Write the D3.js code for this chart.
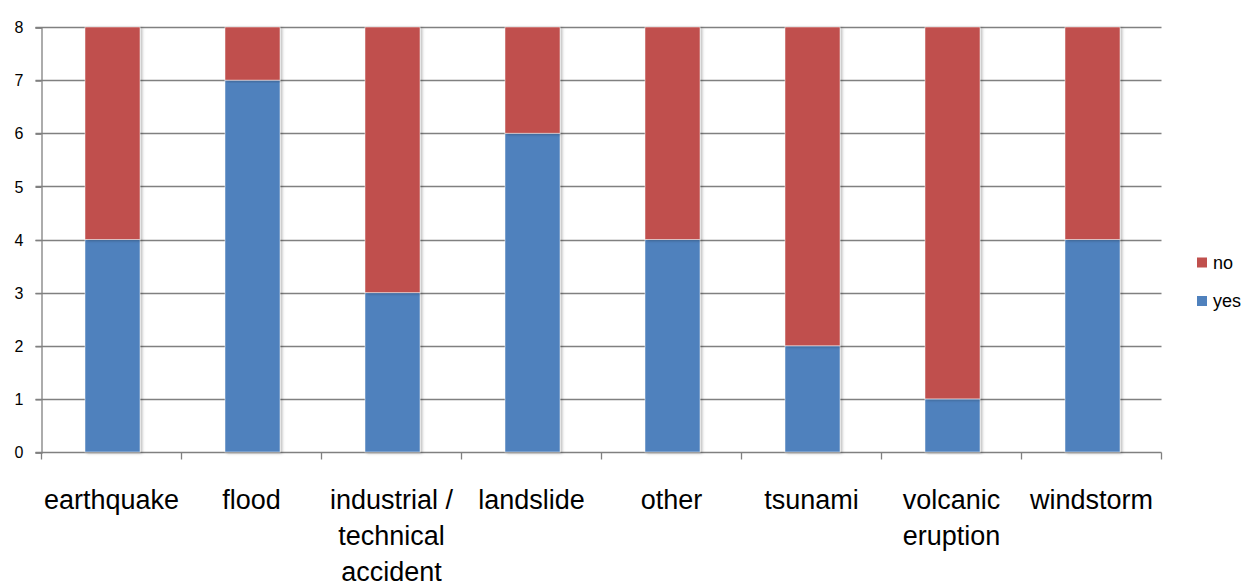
<!DOCTYPE html>
<html>
<head>
<meta charset="utf-8">
<script src="https://cdn.jsdelivr.net/npm/d3@7"></script>
<style>
  html, body { margin: 0; padding: 0; background: #fff; }
  svg { display: block; }
  text { font-family: "Liberation Sans", Arial, sans-serif; fill: #000; }
</style>
</head>
<body>
<svg id="chart" width="1256" height="586"></svg>
<script>
// Disaster types along the x axis
const categories = ["earthquake", "flood", "industrial / technical accident", "landslide",
                    "other", "tsunami", "volcanic eruption", "windstorm"];
// Wrapped label lines for each category
const categoryLines = [["earthquake"], ["flood"], ["industrial /", "technical", "accident"], ["landslide"],
                       ["other"], ["tsunami"], ["volcanic", "eruption"], ["windstorm"]];
// Stacked series (bottom to top)
const yesValues = [4, 7, 3, 6, 4, 2, 1, 4];
const noValues  = [4, 1, 5, 2, 4, 6, 7, 4];
const seriesNames = ["yes", "no"];
const seriesColors = ["#4F81BD", "#C0504D"];
const yTicks = [0, 1, 2, 3, 4, 5, 6, 7, 8];

const svg = d3.select("#chart");

const plot = { left: 41.5, right: 1161.5, top: 27, bottom: 452 };

const x = d3.scaleBand().domain(categories).range([plot.left, plot.right]).paddingInner(0).paddingOuter(0);
const y = d3.scaleLinear().domain([0, 8]).range([plot.bottom, plot.top]);

// soft shadow for bars
const defs = svg.append("defs");
const f = defs.append("filter").attr("id", "shadow").attr("x", "-20%").attr("y", "-5%").attr("width", "140%").attr("height", "110%");
f.append("feDropShadow").attr("dx", 2).attr("dy", 1).attr("stdDeviation", 1.4)
  .attr("flood-color", "#000").attr("flood-opacity", 0.28);

// gridlines
svg.append("g")
  .selectAll("line")
  .data(yTicks.filter(d => d > 0))
  .join("line")
  .attr("x1", plot.left - 6).attr("x2", plot.right)
  .attr("y1", d => Math.round(y(d)) + 0.5).attr("y2", d => Math.round(y(d)) + 0.5)
  .attr("stroke", "#808080").attr("stroke-width", 1.3);

// y axis
const yAxis = d3.axisLeft(y).tickValues(yTicks).tickSize(6).tickPadding(12).tickFormat(d3.format("d"));
const gy = svg.append("g").attr("transform", `translate(${plot.left},0.5)`).call(yAxis);
gy.select(".domain").attr("stroke", "#808080").attr("stroke-width", 1.3);
gy.selectAll(".tick line").attr("stroke", "#808080").attr("stroke-width", 1.3);
gy.selectAll(".tick text").style("font-size", "16px").attr("fill", "#000");

// x axis
const gx = svg.append("g").attr("transform", `translate(0,${Math.round(plot.bottom) + 0.5})`);
gx.append("line").attr("x1", plot.left - 6).attr("x2", plot.right)
  .attr("stroke", "#808080").attr("stroke-width", 1.3);
const boundaries = d3.range(categories.length + 1).map(i => plot.left + i * x.bandwidth());
gx.selectAll("line.tk").data(boundaries).join("line").attr("class", "tk")
  .attr("x1", d => d).attr("x2", d => d).attr("y1", 0).attr("y2", 7)
  .attr("stroke", "#808080").attr("stroke-width", 1.3);

// stacked bars
const rows = categories.map((c, i) => ({ cat: c, yes: yesValues[i], no: noValues[i] }));
const stack = d3.stack().keys(seriesNames)(rows);
const barW = 55;

const barG = svg.append("g");
stack.forEach((layer, li) => {
  barG.append("g")
    .selectAll("rect")
    .data(layer)
    .join("rect")
    .attr("x", d => x(d.data.cat) + x.bandwidth() / 2 - barW / 2 + 1)
    .attr("y", d => y(d[1]))
    .attr("width", barW)
    .attr("height", d => y(d[0]) - y(d[1]))
    .attr("fill", seriesColors[li])
    .attr("stroke", "rgba(255,255,255,0.6)")
    .attr("stroke-width", 0.8)
    .attr("filter", "url(#shadow)");
});

// category labels
const lab = svg.append("g");
categories.forEach((c, i) => {
  const t = lab.append("text")
    .attr("x", x(c) + x.bandwidth() / 2)
    .attr("y", 509)
    .attr("text-anchor", "middle")
    .style("font-size", "27px");
  categoryLines[i].forEach((ln, j) => {
    t.append("tspan").attr("x", x(c) + x.bandwidth() / 2).attr("dy", j === 0 ? 0 : 36).text(ln);
  });
});

// legend (top entry is the top of the stack)
const legendItems = [{ name: "no", color: seriesColors[1], cy: 262.5 }, { name: "yes", color: seriesColors[0], cy: 301 }];
const lg = svg.append("g");
legendItems.forEach(it => {
  lg.append("rect").attr("x", 1197).attr("y", it.cy - 5).attr("width", 10).attr("height", 10).attr("fill", it.color);
  lg.append("text").attr("x", 1213).attr("y", it.cy + 6).style("font-size", "18px").text(it.name);
});
</script>
</body>
</html>
